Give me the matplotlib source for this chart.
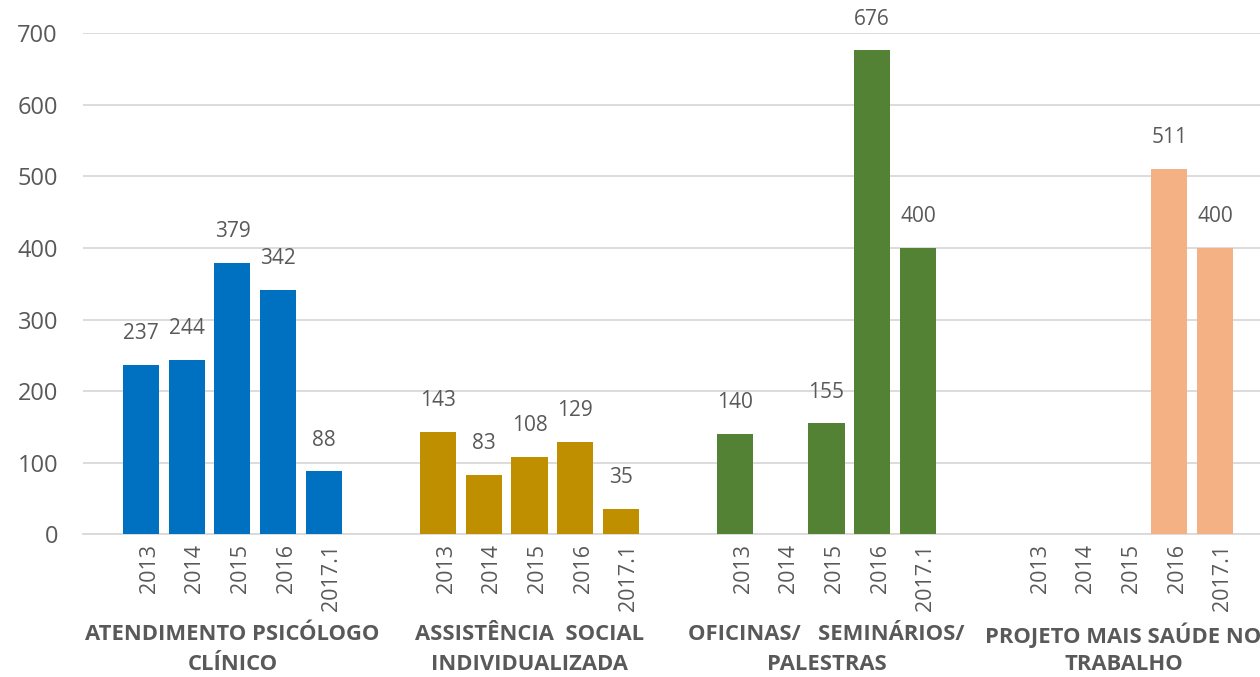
import numpy as np
import matplotlib
matplotlib.use("Agg")
import matplotlib.pyplot as plt
from matplotlib.transforms import blended_transform_factory, ScaledTranslation

# ---- data ----
years = ["2013", "2014", "2015", "2016", "2017.1"]
groups_line1 = ["ATENDIMENTO PSICÓLOGO", "ASSISTÊNCIA  SOCIAL", "OFICINAS/   SEMINÁRIOS/", "PROJETO MAIS SAÚDE NO"]
groups_line2 = ["CLÍNICO", "INDIVIDUALIZADA", "PALESTRAS", "TRABALHO"]
atendimento = [237, 244, 379, 342, 88]
assistencia = [143, 83, 108, 129, 35]
oficinas = [140, np.nan, 155, 676, 400]
projeto = [np.nan, np.nan, np.nan, 511, 400]
series = [atendimento, assistencia, oficinas, projeto]
colors = ["#0070C0", "#BF8F00", "#548235", "#F4B183"]
yticks = [0, 100, 200, 300, 400, 500, 600, 700]

TEXT = "#595959"
GRID = "#D9D9D9"
FONT = "Open Sans"

fig = plt.figure(figsize=(12.6, 6.77), dpi=100)
W, H = 1260, 677
ax = fig.add_axes([83 / W, 1 - 534.3 / H, (W - 83) / W, 501 / H])

group_step = 6.5
positions = []
labels = []
for g, (vals, col) in enumerate(zip(series, colors)):
    xs = [g * group_step + i for i in range(len(years))]
    positions += xs
    labels += years
    ax.bar(xs, vals, width=0.79, color=col, zorder=3)
    for x, v in zip(xs, vals):
        if not np.isnan(v):
            ax.annotate(f"{int(v)}", (x, v), xytext=(0, 22.5), textcoords="offset points",
                        ha="center", va="center", fontsize=15, color=TEXT, family=FONT)

ax.set_xlim(-1.27, -1.27 + (W - 83) / 45.7)
ax.set_ylim(0, 700)
ax.set_yticks(yticks)
ax.set_yticklabels([str(t) for t in yticks], fontsize=17, color=TEXT, family=FONT)
ax.set_xticks(positions)
ax.set_xticklabels(labels, rotation=90, fontsize=15.5, color=TEXT, family=FONT)
ax.tick_params(axis="both", length=0)
ax.tick_params(axis="y", pad=18)
ax.tick_params(axis="x", pad=7)
offset = ScaledTranslation(8 / 100, 0, fig.dpi_scale_trans)
for lab in ax.get_xticklabels():
    lab.set_transform(lab.get_transform() + offset)

ax.grid(axis="y", color=GRID, linewidth=1.3, zorder=0)
for s in ["top", "right", "left"]:
    ax.spines[s].set_visible(False)
ax.spines["bottom"].set_color(GRID)
ax.spines["bottom"].set_linewidth(1.3)

tr = blended_transform_factory(ax.transData, fig.transFigure)
for g in range(len(series)):
    cx = g * group_step + 2
    ax.text(cx, 1 - 635 / H, groups_line1[g], transform=tr, ha="center", va="center",
            fontsize=15.8, fontweight="bold", color=TEXT, family=FONT, clip_on=False)
    ax.text(cx, 1 - 665 / H, groups_line2[g], transform=tr, ha="center", va="center",
            fontsize=15.8, fontweight="bold", color=TEXT, family=FONT, clip_on=False)

fig.savefig("out.png", dpi=100, facecolor="white")
